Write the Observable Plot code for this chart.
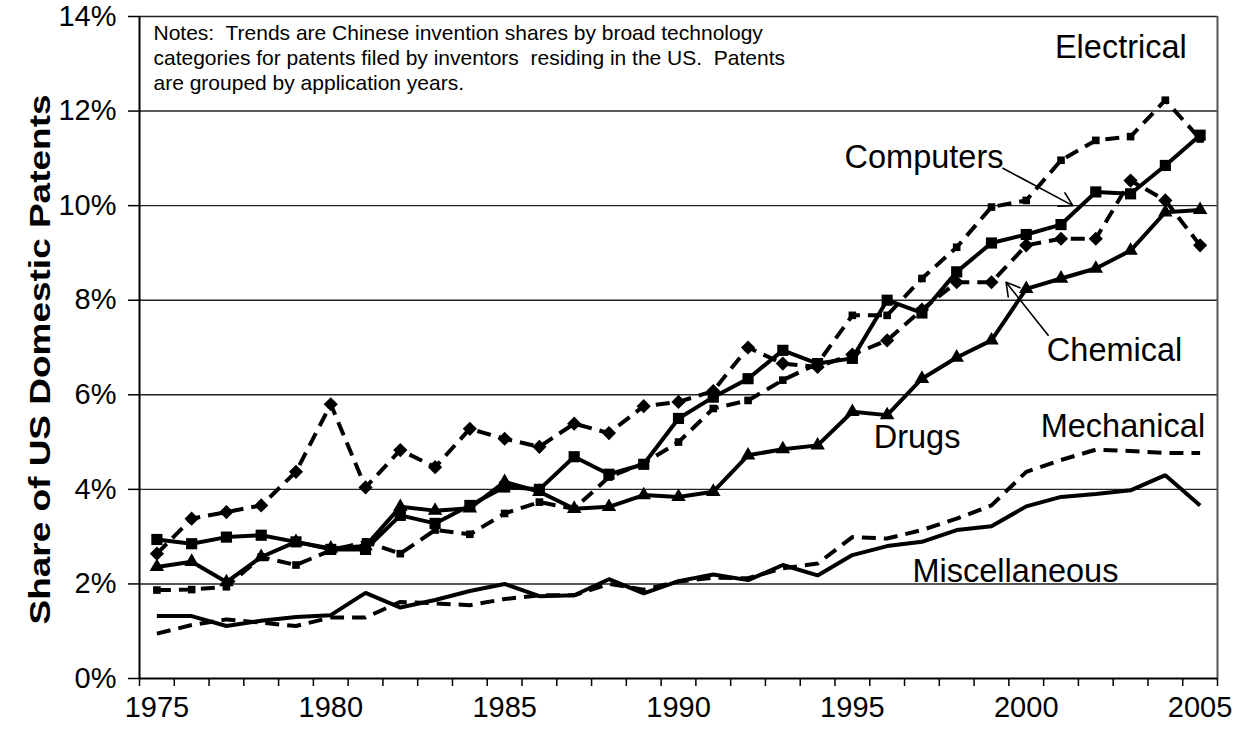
<!DOCTYPE html>
<html>
<head>
<meta charset="utf-8">
<script src="https://cdn.jsdelivr.net/npm/d3@7"></script>
<script src="https://cdn.jsdelivr.net/npm/@observablehq/plot@0.6"></script>
<style>
  html, body { margin: 0; padding: 0; background: white; }
  #chart { width: 1247px; height: 746px; }
</style>
</head>
<body>
<div id="chart"></div>
<script>
// ---------- data ----------
const years = [1975,1976,1977,1978,1979,1980,1981,1982,1983,1984,1985,1986,1987,1988,1989,1990,
               1991,1992,1993,1994,1995,1996,1997,1998,1999,2000,2001,2002,2003,2004,2005];

const electrical    = [1.87,1.88,1.94,2.57,2.40,2.71,2.89,2.64,3.14,3.05,3.49,3.73,3.59,4.26,4.55,5.00,
                       5.71,5.88,6.31,6.66,7.68,7.68,8.46,9.12,9.97,10.11,10.96,11.38,11.46,12.23,11.41];
const computers     = [2.94,2.85,2.99,3.03,2.89,2.73,2.73,3.45,3.28,3.66,4.05,4.00,4.69,4.32,4.53,5.50,
                       5.95,6.34,6.94,6.66,6.77,8.00,7.73,8.60,9.21,9.39,9.60,10.29,10.25,10.85,11.49];
const chemical      = [2.64,3.38,3.52,3.66,4.37,5.80,4.04,4.83,4.47,5.28,5.07,4.90,5.39,5.19,5.76,5.85,
                       6.08,7.00,6.66,6.59,6.85,7.15,7.80,8.38,8.38,9.16,9.30,9.30,10.53,10.11,9.16];
const drugs         = [2.36,2.47,2.04,2.57,2.89,2.75,2.80,3.63,3.55,3.60,4.16,3.95,3.59,3.63,3.88,3.84,
                       3.95,4.72,4.85,4.93,5.64,5.57,6.34,6.79,7.15,8.24,8.46,8.67,9.05,9.86,9.91];
const mechanical    = [0.95,1.13,1.25,1.18,1.11,1.29,1.29,1.62,1.59,1.55,1.68,1.76,1.76,2.00,1.88,2.05,
                       2.13,2.12,2.33,2.43,2.99,2.96,3.14,3.38,3.66,4.37,4.62,4.84,4.81,4.77,4.77];
const miscellaneous = [1.32,1.32,1.11,1.22,1.30,1.34,1.81,1.50,1.66,1.85,2.00,1.74,1.76,2.10,1.80,2.06,
                       2.20,2.08,2.40,2.18,2.61,2.80,2.89,3.14,3.22,3.64,3.84,3.90,3.98,4.30,3.66];

const yTicks = [0,2,4,6,8,10,12,14];
const xLabels = [1975,1980,1985,1990,1995,2000,2005];

const seriesNames = ["Electrical","Computers","Chemical","Drugs","Mechanical","Miscellaneous"];
const seriesValues = [electrical, computers, chemical, drugs, mechanical, miscellaneous];
const seriesDashed = [true, false, true, false, true, false];
const seriesSymbol = ["square", "square", "diamond2", "triangle", null, null];
const seriesSize   = [4.3, 6.3, 6.4, 5.4, 0, 0];

// label annotations (data coordinates)
const labelText = ["Electrical","Computers","Chemical","Drugs","Mechanical","Miscellaneous"];
const labelX    = [2002.72, 1997.06, 2002.54, 1996.86, 2002.78, 1999.69];
const labelY    = [13.35, 11.02, 6.94, 5.10, 5.33, 2.27];

// arrows (data coordinates)
const arrowX1 = [1999.33, 2000.63];
const arrowY1 = [10.79, 7.26];
const arrowX2 = [2001.34, 1999.42];
const arrowY2 = [10.00, 8.38];

const yTitle = "Share of US Domestic Patents";
const notes = "Notes:  Trends are Chinese invention shares by broad technology\ncategories for patents filed by inventors  residing in the US.  Patents\nare grouped by application years.";

// ---------- build ----------
const rows = [];
seriesNames.forEach((name, i) => {
  seriesValues[i].forEach((v, j) => rows.push({series: name, year: years[j], value: v}));
});
const x0 = years[0] - 0.5, x1 = years[years.length - 1] + 0.5;
const boundaries = years.map(y => y - 0.5).concat([x1]);

const marks = [];
marks.push(Plot.ruleY(yTicks.filter(d => d > 0), {x1: x0, x2: x1, stroke: "#222", strokeWidth: 1.4}));
marks.push(Plot.ruleX([x1], {y1: 0, y2: 14, stroke: "#555", strokeWidth: 2}));
seriesNames.forEach((name, i) => {
  marks.push(Plot.line(rows.filter(r => r.series === name), {
    x: "year", y: "value", stroke: "black", strokeWidth: 4,
    strokeDasharray: seriesDashed[i] ? "14,8" : null,
    strokeLinejoin: "miter", strokeLinecap: "butt"
  }));
});
seriesNames.forEach((name, i) => {
  if (!seriesSymbol[i]) return;
  marks.push(Plot.dot(rows.filter(r => r.series === name), {
    x: "year", y: "value", symbol: seriesSymbol[i], r: seriesSize[i], fill: "black", stroke: "none"
  }));
});
marks.push(Plot.ruleX([x0], {y1: 0, y2: 14, stroke: "black", strokeWidth: 2}));
marks.push(Plot.ruleY([0], {x1: x0, x2: x1, stroke: "black", strokeWidth: 2}));
marks.push(Plot.axisY({ticks: yTicks, tickFormat: d => d + "%", tickSize: 11, tickPadding: 12,
  fontSize: 29, label: null, strokeWidth: 1.5}));
marks.push(Plot.axisX({ticks: boundaries, tickFormat: () => "", tickSize: 8, label: null, strokeWidth: 1.5}));
marks.push(Plot.axisX({ticks: xLabels, tickFormat: d => String(d), tickSize: 0, tickPadding: 18,
  fontSize: 29, label: null}));
marks.push(Plot.text([yTitle], {frameAnchor: "left", textAnchor: "middle", rotate: -90,
  dx: -99, dy: 12, fontSize: 30, fontWeight: "bold", fill: "black", className: "ytitle"}));
marks.push(Plot.text([notes], {frameAnchor: "top-left", textAnchor: "start", lineAnchor: "top",
  dx: 14, dy: 6, fontSize: 21, lineHeight: 1.19, fill: "black"}));
marks.push(Plot.text(labelText, {x: (d, i) => labelX[i], y: (d, i) => labelY[i], text: d => d,
  fontSize: 32.5, fill: "black", textAnchor: "middle"}));
marks.push(Plot.arrow(arrowX1, {x1: (d, i) => arrowX1[i], y1: (d, i) => arrowY1[i],
  x2: (d, i) => arrowX2[i], y2: (d, i) => arrowY2[i], stroke: "black", strokeWidth: 1.6,
  headLength: 14, bend: 0}));

const chart = Plot.plot({
  width: 1247,
  height: 746,
  marginLeft: 139,
  marginRight: 30,
  marginTop: 16,
  marginBottom: 68,
  x: {domain: [x0, x1]},
  y: {domain: [0, 14]},
  style: {fontFamily: "'Liberation Sans', Arial, sans-serif", color: "black", background: "white", overflow: "visible"},
  marks
});
// stretch the y title along its length, as in the reference
d3.select(chart).selectAll("text").filter(function() { return this.textContent === yTitle; })
  .attr("textLength", 530).attr("lengthAdjust", "spacingAndGlyphs");
document.getElementById("chart").appendChild(chart);
</script>
</body>
</html>
